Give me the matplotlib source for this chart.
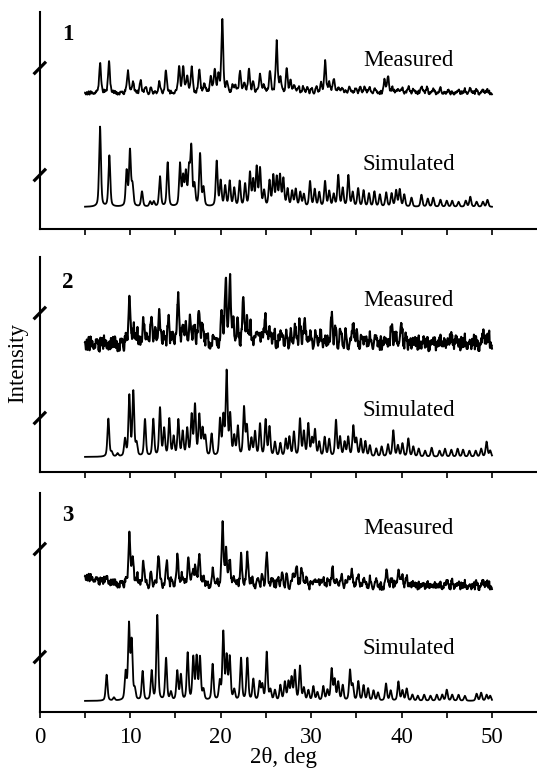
import numpy as np
import matplotlib
matplotlib.use("Agg")
import matplotlib.pyplot as plt

plt.rcParams['font.family'] = ['Liberation Serif', 'DejaVu Serif']

# ---------------- data (peak positions in deg 2theta, heights in relative units) -------------
p1_meas_pos = [6.66, 7.65, 9.75, 10.3, 11.15, 11.7, 12.3, 13.2, 13.95, 15.4, 15.85, 16.3, 16.8, 17.64,
               18.2, 18.9, 19.35, 19.75, 20.18, 20.7, 21.3, 21.6, 22.14, 22.6, 23.13, 23.6, 24.35, 24.8,
               25.45, 26.19, 26.6, 27.3, 27.7, 28.1, 28.6, 29.1, 29.6, 30.1, 30.6, 31.1, 31.55, 32.0,
               32.5, 33.0, 33.5, 34.2, 34.9, 35.4, 35.9, 36.4, 37.0, 38.1, 38.5, 39.0, 39.6, 40.1, 40.75,
               41.3, 42.2, 42.8, 43.5, 44.3, 45.2, 46.3, 47.0, 47.6, 48.3, 49.0, 49.5]
p1_meas_h = [30, 32, 23, 12, 13, 5, 4, 10, 23, 27, 25, 18, 25, 23,
             9, 17, 22, 18, 72, 10, 6, 8, 23, 10, 23, 12, 20, 8,
             22, 52, 14, 23, 12, 8, 6, 5, 6, 4, 5, 8, 32, 10,
             15, 7, 5, 7, 4, 7, 5, 6, 4, 13, 17, 5, 5, 4, 7,
             4, 7, 5, 4, 4, 3, 3, 3, 5, 3, 3, 3]

p1_sim_pos = [6.66, 7.69, 9.6, 9.97, 10.25, 11.3, 12.2, 12.6, 13.29, 14.14, 15.5, 15.85, 16.15, 16.5,
              16.75, 17.1, 17.72, 18.1, 19.56, 20.0, 20.5, 21.0, 21.5, 22.1, 22.7, 23.24, 23.6, 23.98,
              24.35, 24.8, 25.4, 25.82, 26.2, 26.56, 26.93, 27.4, 27.9, 28.3, 28.8, 29.2, 29.88, 30.4,
              30.9, 31.54, 32.0, 32.5, 33.0, 33.5, 34.12, 34.6, 35.2, 35.8, 36.4, 37.0, 37.6, 38.3,
              38.9, 39.4, 39.8, 40.3, 41.1, 42.2, 42.9, 43.5, 44.3, 45.0, 45.6, 46.3, 47.1, 47.6, 48.3,
              49.0, 49.5]
p1_sim_h = [80, 51, 35, 55, 20, 15, 5, 5, 30, 44, 42, 28, 32, 35,
            57, 20, 52, 18, 45, 25, 20, 25, 18, 25, 22, 33, 25, 38,
            37, 15, 25, 30, 28, 30, 27, 17, 15, 17, 14, 12, 25, 17,
            14, 25, 15, 12, 31, 18, 31, 14, 18, 16, 13, 15, 12, 14,
            13, 16, 17, 12, 9, 12, 8, 9, 7, 6, 6, 5, 6, 10, 5,
            5, 7]

p2_meas_pos = [9.9, 10.34, 10.8, 11.44, 12.0, 12.37, 12.8, 13.18, 13.7, 14.21, 14.7, 15.31, 15.8, 16.2,
               16.6, 17.1, 17.6, 18.0, 18.5, 19.5, 20.11, 20.55, 21.03, 21.4, 21.9, 22.5, 22.9, 23.3,
               23.8, 24.3, 24.9, 25.4, 25.9, 26.6, 27.2, 27.7, 28.2, 28.77, 29.3, 29.8, 30.4, 31.0,
               31.5, 32.27, 32.7, 33.2, 33.8, 34.67, 35.1, 35.6, 36.4, 37.0, 38.0, 38.9, 39.4, 40.0,
               40.5, 41.2, 42.5, 43.5, 44.5, 45.4, 46.0, 47.0, 48.0, 49.05, 49.6]
p2_meas_h = [46, 17, 9, 24, 10, 22, 10, 27, 11, 24, 11, 50, 14, 17,
             24, 19, 32, 17, 5, 7, 26, 60, 66, 18, 19, 47, 19, 14,
             12, 14, 31, 16, 9, 10, 9, 10, 14, 21, 22, 10, 9, 7,
             7, 26, 14, 9, 6, 19, 7, 9, 6, 4, 6, 17, 9, 14,
             7, 3, 2, 3, 3, 9, 5, 2, 2, 11, 8]

p2_sim_pos = [7.58, 7.95, 8.6, 9.42, 9.9, 10.34, 10.7, 11.63, 12.55, 13.29, 13.75, 14.32, 14.8, 15.32,
              15.8, 16.3, 16.79, 17.16, 17.64, 18.0, 18.3, 19.0, 19.93, 20.3, 20.66, 21.05, 21.5, 21.9,
              22.58, 22.9, 23.4, 23.8, 24.35, 24.97, 25.4, 26.0, 26.6, 27.2, 27.6, 28.1, 28.77, 29.2,
              29.69, 30.1, 30.43, 30.9, 31.5, 32.0, 32.75, 33.2, 33.7, 34.1, 34.67, 35.0, 35.5, 36.0,
              36.5, 37.2, 37.8, 38.5, 39.09, 39.6, 40.1, 40.75, 41.3, 41.9, 42.6, 43.33, 44.2, 44.8,
              45.5, 46.2, 46.8, 47.5, 48.2, 48.8, 49.4, 49.8]
p2_sim_h = [38, 4, 3, 17, 60, 64, 12, 37, 37, 48, 27, 37, 19, 36,
            24, 27, 40, 50, 40, 26, 19, 22, 36, 38, 83, 40, 19, 29,
            48, 29, 17, 24, 32, 36, 29, 14, 13, 17, 19, 24, 37, 24,
            32, 17, 26, 14, 19, 17, 36, 19, 14, 19, 30, 17, 17, 15,
            11, 8, 10, 12, 26, 11, 13, 18, 10, 8, 6, 9, 6, 8,
            7, 8, 7, 6, 6, 8, 15, 6]

p3_meas_pos = [7.43, 9.9, 10.27, 10.8, 11.44, 12.3, 13.11, 14.03, 14.6, 15.24, 15.7, 16.42, 16.9, 17.2,
               17.64, 18.1, 19.11, 19.6, 20.22, 20.6, 21.0, 21.5, 22.25, 22.95, 23.5, 24.2, 24.6, 25.09,
               25.7, 26.3, 26.8, 27.3, 28.03, 28.4, 28.95, 29.5, 30.3, 30.8, 31.35, 31.9, 32.38, 32.9,
               33.4, 34.12, 34.5, 35.22, 35.8, 36.5, 37.2, 38.36, 38.9, 39.65, 40.1, 40.57, 41.2, 42.2,
               43.0, 43.8, 45.0, 45.6, 46.3, 47.0, 48.3, 49.0, 49.5]
p3_meas_h = [6, 51, 28, 8, 23, 10, 31, 26, 6, 29, 10, 31, 12, 21,
             31, 8, 14, 6, 60, 31, 26, 8, 31, 31, 8, 6, 8, 31,
             6, 8, 10, 10, 14, 18, 19, 8, 10, 6, 10, 6, 18, 8,
             8, 13, 13, 13, 6, 6, 4, 16, 6, 18, 8, 10, 4, 2,
             3, 2, 6, 4, 3, 2, 3, 5, 3]
p3_meas_bg_pos = [4.5]
p3_meas_bg_h = [10]

p3_sim_pos = [7.39, 8.2, 9.49, 9.86, 10.16, 10.5, 11.37, 12.37, 12.99, 13.96, 14.5, 15.2, 15.6, 16.35,
              16.97, 17.34, 17.71, 18.1, 19.11, 19.9, 20.29, 20.66, 21.0, 21.5, 22.25, 22.95, 23.61, 24.3,
              24.6, 25.09, 25.5, 26.0, 26.6, 27.1, 27.5, 27.84, 28.21, 28.77, 29.2, 29.7, 30.25, 30.7,
              31.35, 31.8, 32.27, 32.6, 33.0, 33.5, 34.3, 34.6, 35.22, 35.8, 36.3, 36.9, 37.4, 38.28,
              38.8, 39.65, 40.1, 40.57, 41.2, 41.8, 42.5, 43.2, 43.9, 44.5, 45.0, 45.6, 46.3, 47.0,
              48.3, 48.8, 49.4, 49.8]
p3_sim_h = [26, 3, 27, 74, 57, 10, 29, 29, 85, 42, 8, 29, 25, 47,
            42, 42, 42, 10, 36, 18, 67, 42, 42, 10, 42, 42, 21, 18,
            15, 48, 10, 10, 15, 18, 18, 22, 29, 34, 12, 10, 14, 8,
            14, 10, 31, 20, 18, 15, 30, 15, 19, 15, 12, 10, 8, 17,
            10, 19, 10, 12, 6, 5, 6, 5, 6, 6, 11, 6, 6, 5,
            7, 8, 6, 5]

# hand-read roughness of the measured traces (levels on a 0.3 deg step from 5 deg)
noise_levels = [6, 2, 8, 3, 7, 1, 5, 9, 2, 6, 4, 8, 1, 7, 3, 9, 2, 5, 8, 3, 6, 1, 7, 4, 9, 2, 6, 3, 8, 5,
                1, 7, 4, 2, 9, 3, 6, 8, 2, 5, 7, 1, 4, 9, 3, 6, 2, 8, 5, 1, 7, 3, 9, 4, 6, 2, 8, 1, 5, 7,
                3, 9, 2, 6, 4, 8, 1, 7, 5, 3, 9, 2, 6, 8, 4, 1, 7, 3, 5, 9, 2, 6, 4, 8, 1, 7, 3, 9, 5, 2,
                6, 8, 4, 1, 7, 3, 9, 2, 5, 6, 8, 1, 4, 7, 3, 9, 2, 6, 5, 8, 1, 7, 4, 3, 9, 2, 6, 8, 5, 1,
                7, 3, 4, 9, 2, 6, 8, 1, 5, 7, 3, 9, 4, 2, 6, 8, 1, 7, 5, 3, 9, 2, 4, 6, 8, 1, 7, 3, 5, 9, 2]
noise_start, noise_step = 5.0, 0.3

x_ticks_major = [0, 10, 20, 30, 40, 50]
x_ticks_minor = [5, 15, 25, 35, 45]
panel_labels = ['1', '2', '3']

# ---------------- helpers -------------
x = np.arange(5.0, 50.0001, 0.01)


def profile(pos, h, fwhm=0.24, eta=0.45):
    y = np.zeros_like(x)
    for p, a in zip(pos, h):
        d = (x - p) / (fwhm / 2.0)
        lor = 1.0 / (1.0 + d ** 2)
        gau = np.exp(-np.log(2.0) * d ** 2)
        y += a * (eta * lor + (1.0 - eta) * gau)
    return y


def noise(scale):
    pos = noise_start + noise_step * np.arange(len(noise_levels))
    lv = np.array(noise_levels, dtype=float)
    n1 = profile(pos, lv * scale, fwhm=0.07, eta=0.2)
    n2 = profile(pos + 0.1, lv[::-1] * scale * 0.9, fwhm=0.07, eta=0.2)
    n3 = profile(pos + 0.2, np.roll(lv, 7) * scale * 0.9, fwhm=0.07, eta=0.2)
    n4 = profile(pos + 0.05, np.roll(lv, 13) * scale * 0.6, fwhm=0.05, eta=0.2)
    n5 = profile(pos + 0.15, np.roll(lv, 29) * scale * 0.6, fwhm=0.05, eta=0.2)
    n6 = profile(pos + 0.25, np.roll(lv, 41) * scale * 0.6, fwhm=0.05, eta=0.2)
    return n1 + n2 + n3 + n4 + n5 + n6 - 6.0 * scale


# ---------------- figure -------------
W, H = 537, 769
fig = plt.figure(figsize=(W / 100, H / 100), dpi=100)

panels = [
    dict(top=12, bot=229, mb=136, sb=22, meas=(p1_meas_pos, p1_meas_h), sim=(p1_sim_pos, p1_sim_h),
         ns=0.5, lw=1.3, bg=None, my=169, sy=64, ny=195, br=(161, 54)),
    dict(top=257, bot=472, mb=129, sb=15, meas=(p2_meas_pos, p2_meas_h), sim=(p2_sim_pos, p2_sim_h),
         ns=2.0, lw=1.5, bg=None, my=171, sy=61, ny=190, br=(159, 54)),
    dict(top=493, bot=712, mb=126, sb=11, meas=(p3_meas_pos, p3_meas_h), sim=(p3_sim_pos, p3_sim_h),
         ns=1.1, lw=1.4, bg=(p3_meas_bg_pos, p3_meas_bg_h), my=183, sy=63, ny=197, br=(163, 55)),
]

x0_px, x1_px = 39.8, 537.2
px_per_deg = 9.044
fs = 16.5

for i, pn in enumerate(panels):
    hpx = pn['bot'] - pn['top']
    ax = fig.add_axes([x0_px / W, 1 - pn['bot'] / H, (x1_px - x0_px) / W, hpx / H])
    ax.set_xlim(0, 55)
    ax.set_ylim(0, hpx)

    ym = pn['mb'] + profile(*pn['meas']) + noise(pn['ns'])
    if pn['bg'] is not None:
        ym = ym + profile(*pn['bg'], fwhm=5.0, eta=1.0)
    ys = pn['sb'] + profile(*pn['sim'])
    ax.plot(x, ym, color='black', lw=pn['lw'])
    ax.plot(x, ys, color='black', lw=1.3)

    for s in ['top', 'right']:
        ax.spines[s].set_visible(False)
    for s in ['left', 'bottom']:
        ax.spines[s].set_linewidth(1.5)
    ax.set_yticks([])
    ax.set_xticks(x_ticks_major)
    ax.set_xticks(x_ticks_minor, minor=True)
    ax.tick_params(axis='x', which='both', direction='out', length=4.5, width=1.2, pad=6,
                   labelsize=fs)
    if i < 2:
        ax.tick_params(axis='x', which='both', labelbottom=False)
        ax.set_xticks([5, 10, 15, 20, 25, 30, 35, 40, 45, 50])
        ax.set_xticks([], minor=True)

    # axis-break marks on the left spine
    dx = 6.2 / (x1_px - x0_px)
    for yb in pn['br']:
        ax.plot([-dx, dx], [(yb - 6.3) / hpx, (yb + 6.3) / hpx], transform=ax.transAxes,
                color='black', lw=2.3, clip_on=False, solid_capstyle='butt')

    tx = (363 - x0_px) / px_per_deg
    ax.text(tx, pn['my'], 'Measured', fontsize=fs, ha='left', va='center')
    ax.text(tx, pn['sy'], 'Simulated', fontsize=fs, ha='left', va='center')
    ax.text((68 - x0_px) / px_per_deg, pn['ny'], panel_labels[i], fontsize=fs,
            fontweight='bold', ha='center', va='center')

fig.text(18 / W, 1 - 363 / H, 'Intensity', rotation=90, fontsize=fs, ha='center', va='center')
fig.text(283 / W, 1 - 768 / H, '2θ, deg', fontsize=fs, ha='center', va='bottom')

fig.savefig('out.png', dpi=100)
